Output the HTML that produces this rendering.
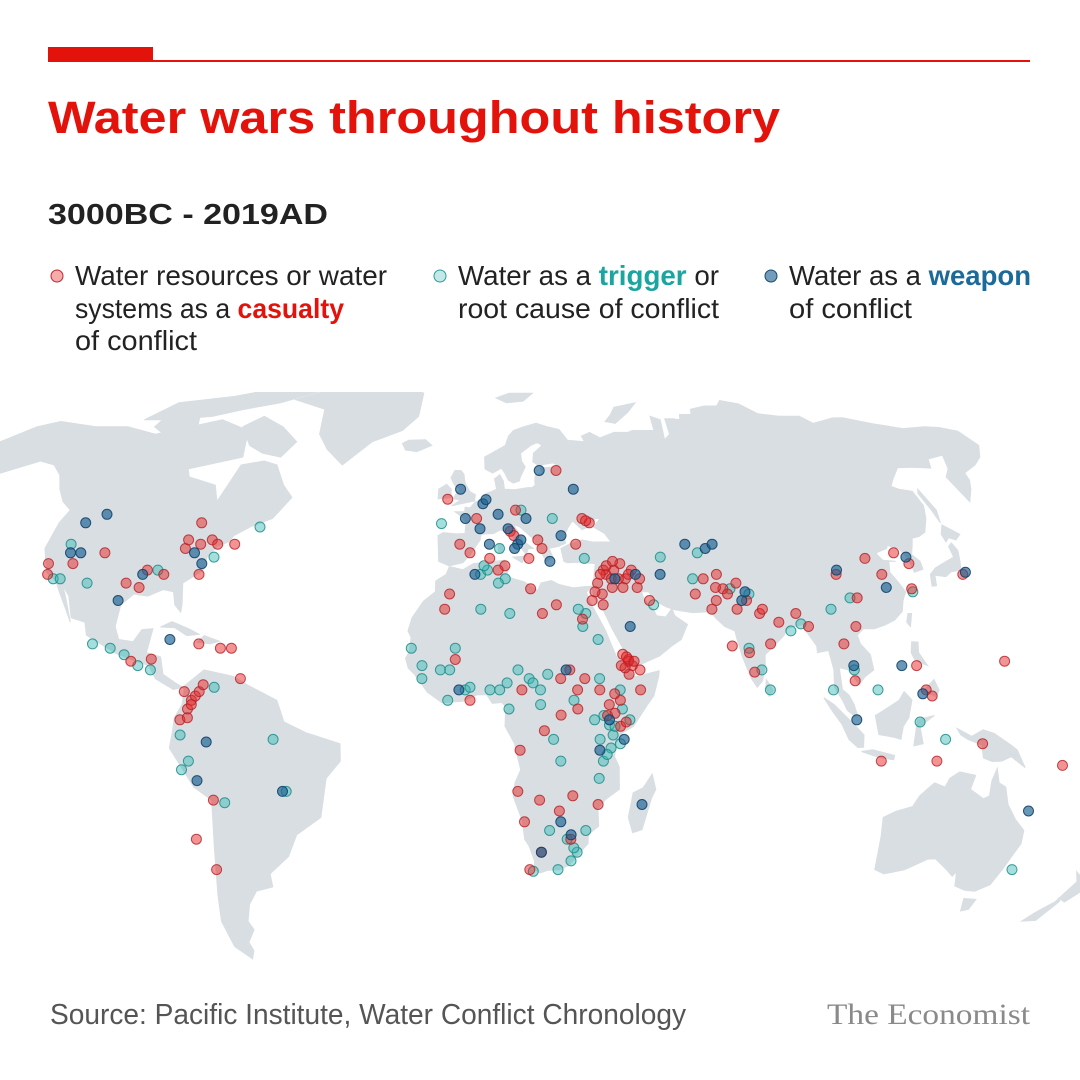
<!DOCTYPE html>
<html><head><meta charset="utf-8">
<style>
html,body{margin:0;padding:0;background:#fff;}
svg{display:block;}
</style></head>
<body>
<svg id="chart" width="1080" height="1080" viewBox="0 0 1080 1080" xmlns="http://www.w3.org/2000/svg">
  <rect x="0" y="0" width="1080" height="1080" fill="#fff"/>
  <rect x="48" y="47" width="105" height="14" fill="#e3120b"/>
  <rect x="48" y="60" width="982" height="2" fill="#e3120b"/>
  <text x="48" y="133" font-family="Liberation Sans, sans-serif" font-weight="bold" font-size="45" fill="#e3120b" textLength="732" lengthAdjust="spacingAndGlyphs">Water wars throughout history</text>
  <text x="48" y="224" font-family="Liberation Sans, sans-serif" font-weight="bold" font-size="29" fill="#222" textLength="280" lengthAdjust="spacingAndGlyphs">3000BC - 2019AD</text>

  <g font-family="Liberation Sans Narrow, Liberation Sans, sans-serif" font-size="28" fill="#222">
    <g>
      <circle cx="57" cy="276" r="6" fill="rgba(227,18,11,0.35)" stroke="#c0272d" stroke-width="1"/>
      <text x="75" y="285" textLength="312" lengthAdjust="spacingAndGlyphs">Water resources or water</text>
      <text x="75" y="318" textLength="269" lengthAdjust="spacingAndGlyphs">systems as a <tspan fill="#e3120b" font-weight="bold">casualty</tspan></text>
      <text x="75" y="350" textLength="122" lengthAdjust="spacingAndGlyphs">of conflict</text>
    </g>
    <g>
      <circle cx="440" cy="276" r="6" fill="rgba(54,183,180,0.3)" stroke="#2a9d9a" stroke-width="1"/>
      <text x="458" y="285" textLength="261" lengthAdjust="spacingAndGlyphs">Water as a <tspan fill="#1aa5a0" font-weight="bold">trigger</tspan> or</text>
      <text x="458" y="318" textLength="261" lengthAdjust="spacingAndGlyphs">root cause of conflict</text>
    </g>
    <g>
      <circle cx="771" cy="276" r="6" fill="rgba(22,90,140,0.6)" stroke="#164a70" stroke-width="1"/>
      <text x="789" y="285" textLength="242" lengthAdjust="spacingAndGlyphs">Water as a <tspan fill="#1c6a9a" font-weight="bold">weapon</tspan></text>
      <text x="789" y="318" textLength="123" lengthAdjust="spacingAndGlyphs">of conflict</text>
    </g>
  </g>

  <defs><clipPath id="mapclip"><rect x="0" y="392" width="1080" height="570"/></clipPath></defs>
  <g id="land" clip-path="url(#mapclip)"></g>
  <g id="dots" clip-path="url(#mapclip)"></g>

  <text x="50" y="1024" font-family="Liberation Sans Narrow, Liberation Sans, sans-serif" font-size="29" fill="#555" textLength="636" lengthAdjust="spacingAndGlyphs">Source: Pacific Institute, Water Conflict Chronology</text>
  <text x="1030" y="1024" text-anchor="end" font-family="Liberation Serif, serif" font-size="30" fill="#8a8a8a" textLength="203" lengthAdjust="spacingAndGlyphs">The Economist</text>
</svg>
<script>
// ---- data: [lon, lat] of recorded conflicts ----
const casualtyPoints = [
[-121,36.5],[-120,34],[-106,39],[-93,31],[-92,35],[-87,34],[-83,40],[-83,42],[-79,41],[-76,42],[-74,41],[-77,34],[-69,41],[-81,46],[-97,32],[-114,36.5],
[-92,14],[-86.5,14.5],[-68,17],[-65,17],[-74,18],
[-76,3],[-75,5],[-74,6],[-73,7],[-72,8.6],[-78,0.5],[-76,1],[-77,7],[-70,-18],[-76,-27],[-72,-34],[-62,10],[-75,4],
[-7,51.6],[0,39],[5.7,37.7],[14,49],[20,42],[28.6,58.6],[17,37.7],[21,40],[31,41],[34,47],[36,46],[35,46.5],[12,44],[13,43],[-3,41],[2,47],
[36,32],[38.6,34],[41,35],[44,33],[47,31],[37,29.5],[40,31],[43,36.5],[34,28],[46,35],[38,35],[50,28],[40,33],[37,34],[42,33],[45,34],[39,36],[35,30],[43,31],[41,37],[48,33],
[63,29.5],[66,33],[68.6,28],[71,30.7],[70,34],[74,26],[77,28],[67,26],[72,29.5],[75,32],[69,31],
[80,25],[85,23],[82,18],[76,16],[77,11.5],[71.5,17.5],[90,25],[93,22],[81,26],
[104,34],[114,37.7],[106,22],[123,39],[126,36.5],[124,30.7],[140,34],[108,28.6],[117,34],
[123,7.4],[124.5,6],[121,13],[102,18],[104,9.5],[111,-9],[126,-9],[138,-5],[145,14],[160,-10],
[-7,26],[-5.7,29.5],[17,30.7],[20,25],[24,27],[31,23.7],[37,27],[10,36],[8,35],
[-4,14.4],[0,5],[14,7.4],[24.5,10],[27,12],[31,10],[29,7.4],
[41.5,15.6],[43,14.4],[44,13],[46,12],[43,11],[42,12.5],[43,14],[41,13],[44.5,14],[42.5,15],[40.5,5],[46,7.4],[37.5,4],[35,7.4],[39,6.5],[37,1.5],[39,2],[40.5,-1],[42,0],
[13.5,-6.5],[20,-2],[24.5,1.6],[29,3],[13,-16],[19,-18],[24.5,-20.5],[28,-17],[35,-19],[20,-30],[28,-27],[15,-23],[17,-34]
];
const triggerPoints = [
[-117,41],[-108,32],[-118,33],[-89,35],[-63,45],[-74,38],[-116,33],
[-103,18],[-98,17],[-90,13],[-86.5,12],[-94,15.5],
[-78,-3],[-76,-9],[-53,-4],[-50,-16],[-67,-18.6],[-78,-11],[-69,8],
[-8.6,45.8],[8.6,40],[15.7,49],[3,34],[5,35],[4,36],[25,47],[33,37.7],[51,27],[10,33],[8,32],
[3,26],[11,25],[32,25],[30,26],[31,22],[35,19],
[-16,17],[-13,10],[-8,12],[-1.3,7.4],[0,8],[5.4,7.4],[8,7.4],[13,12],[16,10],[19,7.4],[-13,13],[-5.5,12],[-6,5],[-4,17],[10,9],[17,9],[21,11],
[36,1.5],[37.5,-0.7],[38.5,-3],[40.5,-5],[36,-9],[35,-4],[33.5,0.5],[43,0.5],[40.5,7.4],[35,10],[38,-6],[37,-7.5],[39,-1],[41,3],
[19,4],[22.5,-4],[24.5,-9],[10.5,3],[28,5],
[22,-25],[27,-27],[30,-30],[28.5,-32],[25,-34],[18,-34.4],[35,-13],[32,-25],[29,-29],
[63,33],[73,30.7],[78,29.5],[66,39],[55,38],
[79,12],[81,7.4],[76,17],[88,21],[91,22.6],
[106,28.6],[124,30],[100,26],[104,12],[110,7.4],[98,7.4],[128,-4],[121,0],[154,-34]
];
const weaponPoints = [
[-116,46],[-111,48],[-116,39],[-98,28],[-77,36.5],[-80,39],[-93,34],[-113,39],
[-82,19],[-71,-4.6],[-74,-13.5],[-51,-16],
[-3,54],[4,50.5],[3,44.6],[8.6,48],[11.4,44.6],[14,41],[17,47],[23,58.6],[33,54],[5.7,41],[-1.4,47],[13,40],[1.4,34],[5,51.5],[15,42],[23,37],[27,43],
[54,34],[47,34],[41,33],[44,22],
[63,41],[68.6,40],[71,41],[75.7,28],[77,30],
[104.5,35],[126,38],[104,13],[117,13],[141,34.5],[117,31],[122,6.5],[104,0.5],[153,-20.5],
[-3,7.4],[26,12],[37.5,0.5],[41.5,-4],[35,-6.5],[28,-26],[25,-23],[20,-30],[47,-19]
];

// ---- land outlines [lon,lat] ----
const landShapes = {
"north-america":[[-168,66],[-162,70],[-156,71.5],[-140,70],[-128,70],[-115,68],[-95,72],[-82,69],[-78,62],[-94,59],[-92,57],[-82,55],[-79,51],[-77,60],[-70,61],[-65,60],[-60,55],[-56,52],[-60,47],[-66,45],[-70,43],[-71,41.5],[-74,40.5],[-76,38],[-76,35],[-81,32],[-80,27],[-80,25.3],[-82,27],[-83,30],[-86,30.5],[-90,29],[-94,29.5],[-97,27],[-97.5,22],[-96,19],[-92,18.5],[-90,21.3],[-87,21.5],[-88,16],[-84,15],[-83,11],[-79.5,9],[-77.5,8],[-80,7.5],[-85,10],[-87,13],[-92,14.5],[-96,15.7],[-105,20],[-106,23],[-110,24],[-112,29],[-114.7,31.5],[-113,29],[-110,23],[-112,26],[-115,30],[-117,32.5],[-120.5,34.5],[-124,40],[-124,46],[-123,49],[-127,51],[-131,54],[-135,57.5],[-140,60],[-146,61],[-152,59],[-158,57],[-164,55],[-158,58.5],[-162,60],[-165,62],[-166,64.5]],
"greenland":[[-73,78],[-60,82],[-30,83],[-20,80],[-20,73],[-25,69],[-35,66],[-43,60],[-50,64],[-55,68],[-58,75]],
"baffin":[[-80,73],[-70,70],[-62,66],[-65,62],[-72,63],[-78,65],[-85,70]],
"arctic-islands":[[-120,77],[-100,79],[-90,81],[-70,83],[-62,82],[-78,77],[-90,75],[-100,73],[-115,72],[-125,72]],
"victoria-island":[[-118,73],[-105,73],[-101,69],[-112,68],[-118,70]],
"south-america":[[-77.5,8],[-72,12],[-64,10.5],[-60,8.5],[-52,5],[-50,0],[-44,-2.5],[-35,-5],[-35,-9],[-39,-13],[-41,-22],[-48,-26],[-51,-31],[-57,-35],[-57,-38],[-62,-39],[-65,-42],[-67,-46],[-66,-48],[-69,-51],[-68.5,-53],[-70,-55],[-74,-52],[-75,-46],[-73.5,-40],[-71.5,-30],[-70.5,-18],[-75,-15],[-81,-6],[-80,-2],[-79.5,1],[-77.5,4],[-77,7.5]],
"eurasia":[[-9.5,43],[-9,37],[-6,36],[-2,36.7],[0,38.5],[3,42],[3.3,43.3],[7,43.5],[9,44.3],[12,44],[13,42],[16,39],[16,38],[17,40],[18.5,40],[16,41.5],[13,45.6],[15,45],[19,42],[20,40],[22,37],[24,38],[23,40],[26,40.5],[28,41.2],[28,43],[29.5,45],[31,46.5],[33.5,44.4],[36,45.2],[38,47],[39.5,47],[37,45],[40,43.5],[41.5,41.5],[36,41.5],[33,42],[29,41],[26.5,40],[27,37],[28,36.7],[31,36.8],[36,36.5],[35.5,35],[34.8,32],[34.3,31.3],[34.5,29],[35,28],[37,25.5],[39,21.5],[42.5,15.5],[43.3,12.7],[45,12.8],[51.5,15.2],[55,17.5],[57.7,19],[59.8,22.5],[56.5,24.5],[56,26.2],[54,24.2],[51.5,24.5],[50.8,26],[50,26.5],[48.5,28.5],[48,30],[50,30],[51.5,27.9],[54.5,26.5],[57,25.8],[61.5,25.2],[66.5,25.4],[68,23.7],[70,22],[72.6,21],[73,19],[74,15],[76,10],[77.5,8],[79,9.5],[80,13],[80.2,15.5],[82.3,17],[86,20],[87,21.5],[89,22],[91.5,22.5],[92.3,20.7],[94.5,17.5],[94.5,16],[97.6,16.5],[98.5,12],[98.3,8],[100.3,5],[101.5,2.7],[103.5,1.3],[104.2,1.5],[103.4,4],[102.1,6.2],[100.4,7.5],[100,12.5],[102.5,12],[105,8.6],[106.7,10.4],[109.3,12],[108.8,15.5],[106.5,18],[106,20],[108,21.5],[111,21.5],[114,22.3],[117,23.5],[119.6,25.5],[120.6,28],[122,30],[121,32],[119.5,34.5],[120.5,37],[122.5,37],[119,37.3],[118,38.5],[118,39],[121.5,40],[122,40.5],[121,41],[125,40],[126.5,37.7],[126.5,34.5],[129.3,35.2],[129.5,37],[128,38.6],[129.7,41],[130.7,42.4],[133,42.8],[135.5,43.8],[138.5,47],[140.5,50],[140.7,53.5],[137,54],[135.2,54.7],[138,56.5],[143,59.3],[148,59.4],[154,59.2],[156.5,61.5],[163,62.5],[159.5,59],[156,57],[156,51],[160,54],[162.5,56.2],[163.5,58],[170,60],[175,62],[180,65],[180,68.8],[175,69.8],[170,70],[161,69.5],[152,70.9],[144,72.6],[140,72.5],[130,71],[128,73],[120,73],[113,73.7],[110,76.7],[104,77.7],[100,76],[95,76],[88,75],[86.5,73.5],[82,73.5],[80.5,72],[78,72.3],[75,72.3],[73,68],[70,66.5],[73,72],[70,73],[68,69],[66,69],[60,69],[58,68.5],[53,68.5],[47,67],[44,68.5],[40.5,67.5],[41,66],[35,66.4],[33,69.3],[29,70],[25,71],[20,70],[16,69],[14,67.5],[12.5,65],[10,64],[5,62],[5,59],[7.5,58],[10.5,59.2],[11.5,58],[12.5,56.2],[14,55.5],[16,56],[16.5,57],[18.5,59.5],[17.5,61],[17.5,63],[21.5,65],[24,65.8],[25.5,65],[22,63],[21.3,60.8],[23,59.9],[28,60.5],[29.5,59.9],[28,59.5],[23.5,59.2],[24,58],[21.5,57.5],[21,56],[21,55],[19.8,54.4],[18.6,54.4],[14.2,53.9],[11,54],[10.8,56],[9.8,57.6],[8,56.5],[8.5,54],[7,53.5],[5,53],[4,51.5],[1.6,50.9],[0,49.5],[-1.5,49.7],[-1.6,48.6],[-4.6,48.6],[-2.3,47.3],[-1.2,46],[-1.5,43.5],[-4,43.4],[-8,43.7]],
"africa":[[-17,21],[-16,24],[-13,27.8],[-9.7,30],[-9.7,32.5],[-6.8,34],[-5.9,35.8],[-2,35.1],[1,36.5],[10,37.3],[11,35.5],[10.5,34],[11.5,33.2],[15.3,32.3],[19,30.3],[20,32],[23,32.6],[25,31.7],[29,30.9],[32.3,31.2],[34.3,31.3],[32.6,29.9],[33.5,27.5],[35.5,24],[37.2,21],[38.5,18],[39.7,15.2],[41.7,13.5],[43.3,11.8],[44.5,10.4],[51.2,11.8],[51,10.5],[49.5,6],[47.8,4],[44,-1],[41,-2.5],[39.3,-5],[39,-8],[40.3,-10.3],[40.6,-15.5],[37,-17.8],[35,-20],[35.5,-24],[32.8,-25.9],[32.9,-28],[31,-29.9],[28,-33],[25.5,-34],[22,-34.2],[20,-34.8],[18.4,-34.1],[18.2,-32],[16.5,-28.6],[15.2,-27],[14.4,-22.8],[11.8,-17.2],[12.2,-14],[13.7,-11],[12.2,-6],[12,-5],[9.4,-1],[9.5,1],[9.7,3.5],[8.5,4.5],[6,4.3],[4.5,6.3],[2,6.3],[-2,4.8],[-7.5,4.4],[-11.5,6.9],[-13.3,9],[-15,11],[-16.7,12.4],[-17.5,14.7],[-16.5,16.2],[-16.1,19.5]],
"madagascar":[[49.3,-12],[50.5,-15.5],[49.5,-17.5],[47.5,-24.8],[45,-25.5],[43.5,-22],[44.4,-16.3],[47,-15.2]],
"australia":[[113.5,-22],[114,-26.5],[115,-34],[118,-35],[123.5,-34],[129,-31.6],[131,-31.5],[135,-33.8],[137.8,-35.5],[138.5,-34.5],[140,-37.8],[143.5,-38.8],[146.5,-39],[150,-37.5],[151.3,-33.8],[153.5,-28],[153,-25],[150,-22.5],[147,-19],[145.5,-15],[143.5,-14],[142.5,-10.7],[141.5,-13.5],[141.5,-17],[140,-17.7],[136,-15.5],[136.9,-12.3],[132.5,-11.5],[130,-13],[129,-15],[126,-14],[122.5,-17],[121,-19.5],[116.7,-20.6]],
"tasmania":[[144.6,-40.7],[148.3,-40.9],[148,-43.2],[146,-43.6]],
"new-zealand":[[172.7,-34.5],[178.5,-37.7],[177,-39.5],[174.8,-41.5],[172,-40.5],[173.3,-41.3],[170.5,-45.8],[166.5,-46],[168.5,-44],[172,-41.5],[174.5,-36.8]],
"japan":[[130,31.3],[131.3,31.4],[132,33.8],[135,33.5],[137,34.6],[140,35],[141,37],[142,39.5],[141.4,41.3],[140,40.5],[139.8,38],[137,37],[133,35.5],[130.8,34]],
"hokkaido":[[140,41.5],[141.5,42.5],[143.3,42],[145.5,43.3],[142,45.5],[140,43.3]],
"sakhalin":[[142,46],[143.5,49],[143,54],[142,53],[142,49]],
"great-britain":[[-5.7,50],[1.4,51.2],[1.7,52.7],[0,53.4],[-1.6,55.5],[-2,57.7],[-3,58.6],[-5,58.6],[-6.2,56.8],[-5,55],[-3,54],[-4.5,52.8],[-5.2,51.7],[-3,51.4]],
"ireland":[[-6,52],[-6,54],[-7.5,55.2],[-10,54],[-10,51.7]],
"iceland":[[-24,65.5],[-22,66.4],[-16,66.5],[-13.5,65],[-18.5,63.4],[-22.5,63.8]],
"novaya-zemlya":[[51.5,71.5],[55,73.5],[58,75.6],[68,77],[62,74],[55,71]],
"svalbard":[[11,78.5],[17,80],[27,80],[22,77.5],[15,77]],
"sumatra":[[95.3,5.6],[98,4],[103.8,-1],[106,-3],[106,-5.8],[104.5,-5.9],[102,-4],[100,-0.5],[97.5,2.5]],
"java":[[105.5,-6.8],[108.5,-6.4],[114.5,-7.7],[114.3,-8.7],[110,-8.1]],
"borneo":[[109,1.5],[110,-2.9],[114,-3.5],[116,-4],[116.5,-1],[118,1],[119,5.1],[117,7],[115.5,5],[111,2.5]],
"sulawesi":[[119.5,-5.5],[120.3,0.5],[124.9,1.5],[121,-1],[122,-5]],
"new-guinea":[[131,-1.5],[135,-3.3],[138,-1.8],[141,-2.6],[146,-5.5],[147.5,-6.5],[150,-10.5],[146,-8],[143.5,-9],[141,-9.1],[138.5,-8.3],[137.8,-5.3],[134,-4],[132,-2.9]],
"luzon":[[120.6,18.5],[122.3,18.4],[122,16],[124,13],[122.5,13.5],[120.6,14.5],[120,16]],
"mindanao":[[122,7],[125.3,9.8],[126.5,7.3],[125.5,5.8],[124,6.5]],
"taiwan":[[121,25],[122,25],[121,22],[120.2,23]],
"sri-lanka":[[79.8,8],[80,9.8],[81.8,7.3],[80.6,5.9]],
"cuba":[[-85,21.9],[-82,23.1],[-77,21.4],[-74.2,20.2],[-77.5,19.9],[-81,21.7]],
"hispaniola":[[-74.5,18.4],[-72.7,19.9],[-68.4,18.6],[-71,18]],
"sicily":[[12.4,38],[15.6,38.2],[15,36.7]],
"sardinia":[[8.2,41],[9.7,41],[9.6,39],[8.4,39]]
};

// ---- projection (Robinson) ----
const RX=[1,0.9986,0.9954,0.99,0.9822,0.973,0.96,0.9427,0.9216,0.8962,0.8679,0.835,0.7986,0.7597,0.7186,0.6732,0.6213,0.5722,0.5322];
const RY=[0,0.062,0.124,0.186,0.248,0.31,0.372,0.434,0.4958,0.5571,0.6176,0.6769,0.7346,0.7903,0.8435,0.8936,0.9394,0.9761,1];
const X0=470, SX=3.72, Y0=722, SY=350;
function interp(arr, a){const i=Math.min(17,Math.floor(a/5));const f=(a-i*5)/5;return arr[i]+(arr[i+1]-arr[i])*f;}
function proj(lon,lat){const a=Math.min(90,Math.abs(lat));return [X0+SX*lon*interp(RX,a), Y0-Math.sign(lat)*SY*interp(RY,a)];}

const NS="http://www.w3.org/2000/svg";
const landG=document.getElementById('land');
for (const name in landShapes){
  const pts=landShapes[name].map(p=>proj(p[0],p[1]));
  const d='M'+pts.map(p=>p[0].toFixed(1)+','+p[1].toFixed(1)).join('L')+'Z';
  const path=document.createElementNS(NS,'path');
  path.setAttribute('d',d);
  path.setAttribute('fill','#d8dee2');
  path.setAttribute('stroke','#d8dee2');
  path.setAttribute('stroke-width','1');
  
  
  landG.appendChild(path);
}

const dotsG=document.getElementById('dots');
function drawSeries(points, fill, stroke, label){
  const g=document.createElementNS(NS,'g');
  
  
  points.forEach(p=>{
    const xy=proj(p[0],p[1]);
    const c=document.createElementNS(NS,'circle');
    c.setAttribute('cx',xy[0].toFixed(1));
    c.setAttribute('cy',xy[1].toFixed(1));
    c.setAttribute('r','5');
    c.setAttribute('fill',fill);
    c.setAttribute('stroke',stroke);
    c.setAttribute('stroke-width','1');
    
    
    g.appendChild(c);
  });
  dotsG.appendChild(g);
}
drawSeries(triggerPoints,'rgba(54,183,180,0.45)','rgba(28,140,138,0.85)','trigger');
drawSeries(casualtyPoints,'rgba(232,40,40,0.5)','rgba(180,30,35,0.8)','casualty');
drawSeries(weaponPoints,'rgba(25,95,145,0.65)','rgba(18,65,105,0.9)','weapon');
</script>
</body></html>
